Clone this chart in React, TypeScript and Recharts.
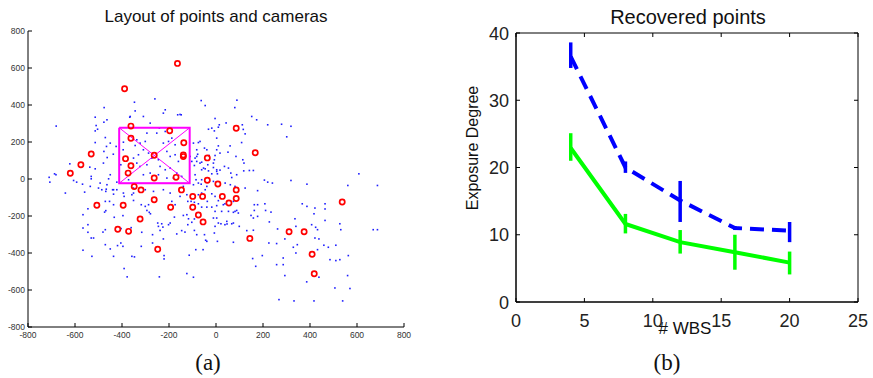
import React from "react";
import {
  ScatterChart,
  Scatter,
  ComposedChart,
  Line,
  ErrorBar,
  XAxis,
  YAxis,
  ReferenceArea,
} from "recharts";

// ---- (a) layout of points and cameras ----
const layoutTicks = [-800, -600, -400, -200, 0, 200, 400, 600, 800];

const scenePoints: [number, number][] = [
  [-347, 415], [-260, 433], [-344, 368], [-476, 386], [-514, 334], [-477, 307], [-680, 286], [-510, 289],
  [-514, 260], [-504, 269], [-471, 224], [-367, 334], [-514, 197], [-466, 176], [-425, 176], [-477, 149],
  [-437, 134], [-463, 116], [-394, 199], [-395, 158], [-405, 77], [-344, 181], [-330, 131], [-622, 82],
  [-687, 28], [-681, 23], [-710, 9], [-707, -17], [-606, -8], [-593, -17], [-568, -28], [-537, 64],
  [-514, 55], [-531, 14], [-531, 1], [-535, -40], [-500, -49], [-493, -22], [-464, -31], [-450, 23],
  [-457, 1], [-467, -55], [-469, -67], [-422, -17], [-440, -58], [-436, -82], [-422, -58], [-391, -94],
  [-351, -76], [-351, -49], [-372, -4], [-641, -76], [-559, -71],
  [-365, 338], [-309, 338], [-280, 302], [-241, 275], [-294, 248], [-252, 248], [-216, 257], [-188, 221],
  [-337, 212], [-323, 194], [-301, 203], [-224, 194], [-202, 203], [-174, 185], [-309, 158], [-287, 140],
  [-273, 113], [-245, 104], [-209, 149], [-195, 122], [-174, 131], [-160, 95], [-351, 113], [-337, 86],
  [-323, 68], [-294, 77], [-238, 68], [-216, 50], [-195, 59], [-167, 32], [-309, 23], [-280, 32],
  [-245, 23], [-209, 5], [-181, 5], [-146, 14], [-96, 194], [-68, 203], [-82, 122], [-68, 86],
  [-53, 59], [-89, 23], [-61, -4], [-96, -31], [-39, -40], [-11, -13], [3, 41], [-11, 86],
  [3, 158], [-464, 320], [-450, 194], [-479, 86], [-486, -58], [-436, -58], [-394, -76], [-358, -85],
  [-301, -58], [-266, -67], [-224, -58], [-195, -76], [-153, -94], [-139, -40], [-124, -85], [-224, 356],
  [-153, 349],
  [-63, 424], [-46, 397], [89, 426], [80, 386], [-4, 327], [43, 303], [14, 293], [10, 280],
  [-18, 275], [-32, 269], [-7, 260], [152, 338], [173, 320], [112, 293], [116, 268], [124, 244],
  [220, 293], [279, 296], [3, 221], [109, 197], [10, 179], [60, 179], [85, 122], [114, 104],
  [119, 86], [51, 145], [17, 140], [-75, 197], [-82, 158], [-49, 167], [-39, 158], [-29, 127],
  [-4, 127], [-7, 104], [-78, 134], [-89, 113], [-82, 95], [-92, 73], [-110, 122], [-103, 95],
  [-61, 91], [-35, 77], [-46, 55], [-61, 50], [-32, 44], [-11, 62], [-18, 28], [3, 50],
  [6, 28], [17, 48], [36, 68], [53, 59], [63, 32], [67, 8], [88, 23], [118, 44],
  [142, 46], [159, 46], [206, -6], [220, -17], [240, -22], [177, -63], [-85, -4], [-75, -22],
  [-63, -28], [-46, -58], [-75, -85], [-61, -76], [-18, -80], [-4, -94], [39, -22], [61, -31],
  [81, -40], [124, -49], [-163, 347], [-148, 347], [-216, 374],
  [319, 285], [301, 228], [319, -8], [387, -28], [608, 28], [561, -35], [687, -35],
  [-545, -161], [-566, -193], [-471, -121], [-453, -121], [-436, -139], [-469, -171], [-474, -179], [-433, -207],
  [-396, -198], [-351, -116], [-318, -139], [-301, -148], [-287, -139], [-284, -180], [-294, -170], [-279, -188],
  [-545, -247], [-566, -265], [-545, -288], [-531, -319], [-521, -319], [-481, -287], [-471, -274], [-404, -268],
  [-361, -263], [-316, -288], [-270, -301], [-248, -238], [-231, -242], [-226, -260], [-245, -256], [-238, -278],
  [-224, -324], [-270, -346], [-471, -355], [-450, -378], [-419, -360], [-405, -346], [-396, -364], [-318, -364],
  [-566, -385], [-528, -418], [-436, -418], [-358, -418], [-347, -421], [-221, -414], [-221, -432], [-391, -484],
  [-378, -529], [-241, -529],
  [-188, -121], [-174, -139], [-120, -121], [-106, -121], [-92, -126], [-75, -134], [-61, -152], [-39, -152],
  [-37, -121], [-18, -152], [3, -144], [10, -117], [31, -139], [38, -134], [74, -121], [81, -175],
  [88, -170], [95, -184], [74, -180], [53, -175], [24, -175], [-4, -175], [163, -139], [177, -139],
  [208, -134], [163, -170], [211, -170], [234, -179], [149, -197], [159, -211], [177, -202], [227, -232],
  [-139, -197], [-124, -193], [-117, -215], [-120, -247], [-103, -234], [-92, -216], [-177, -206], [-202, -247],
  [-195, -238], [-167, -297], [-146, -279], [-132, -287], [-92, -278], [-82, -301], [-49, -301], [-44, -331],
  [-7, -292], [-11, -211], [3, -211], [10, -238], [21, -242], [38, -247], [47, -243], [67, -242],
  [74, -238], [-4, -256], [46, -229], [99, -256], [131, -279], [159, -277], [74, -342], [6, -337],
  [-39, -337], [-86, -382], [-55, -382], [-114, -412], [197, -414], [156, -430], [262, -270], [258, -349],
  [225, -346], [258, -463], [169, -472], [286, -463], [286, -427], [-124, -511], [-96, -531], [268, -652],
  [367, -134], [387, -148], [421, -157], [464, -134], [464, -162], [417, -188], [464, -224], [336, -215],
  [340, -256], [407, -247], [424, -261], [432, -274], [527, -242], [531, -274], [669, -274], [687, -274],
  [293, -324], [346, -355], [329, -369], [340, -400], [421, -319], [438, -324], [459, -358], [478, -369],
  [510, -358], [432, -382], [563, -414], [485, -436], [510, -441], [527, -436], [293, -522], [438, -531],
  [560, -522], [386, -556], [506, -589], [570, -592], [332, -659], [417, -659], [539, -659],
];

const cameraPoints: [number, number][] = [
  [-164, 625], [-389, 488], [-362, 286], [86, 274], [-197, 261], [-362, 220], [-137, 196], [-531, 135],
  [167, 142], [-263, 128], [-139, 130], [-139, 121], [-37, 114], [-385, 110], [-575, 77], [-362, 72],
  [-620, 31], [-374, 32], [-263, 5], [-170, 9], [-37, -7], [8, -27], [-348, -41], [-319, -59],
  [-147, -59], [86, -59], [-99, -94], [-57, -94], [27, -94], [86, -105], [-263, -112], [55, -130],
  [-507, -142], [-395, -142], [-193, -153], [-99, -153], [-75, -195], [-323, -216], [-55, -232], [-418, -272],
  [-372, -283], [144, -321], [311, -285], [375, -285], [537, -124], [-248, -380], [409, -407], [418, -512],
];

// camera frame: corners top-left, top-right, bottom-right, bottom-left
const frameCorners: [number, number][] = [
  [-412, 277], [-112, 277], [-112, -23], [-412, -23],
];

// ---- (b) recovered points ----
const wbs = [4, 8, 12, 16, 20];
const blueMean = [36.5, 20.0, 15.1, 11.0, 10.6];
const blueLow = [34.8, 19.2, 11.9, 10.7, 8.9];
const blueHigh = [38.6, 20.9, 18.0, 11.3, 11.9];
const greenMean = [22.9, 11.6, 8.9, 7.4, 5.85];
const greenLow = [21.0, 10.2, 7.2, 4.8, 4.1];
const greenHigh = [25.1, 13.1, 10.7, 10.0, 7.5];
const wbsTicks = [0, 5, 10, 15, 20, 25];
const degreeTicks = [0, 10, 20, 30, 40];

const toXY = (pts: [number, number][]) => pts.map(([x, y]) => ({ x, y }));
const sceneData = toXY(scenePoints);
const cameraData = toXY(cameraPoints);
const c = frameCorners;
const frameOutline = toXY([c[0], c[1], c[2], c[3], c[0]]);
const frameDiagonals = toXY([c[0], c[2], c[3], c[1]]);

const recovered = wbs.map((w, i) => ({
  wbs: w,
  blue: blueMean[i],
  blueErr: [blueMean[i] - blueLow[i], blueHigh[i] - blueMean[i]],
  green: greenMean[i],
  greenErr: [greenMean[i] - greenLow[i], greenHigh[i] - greenMean[i]],
}));

const SANS = "'Liberation Sans', Arial, Helvetica, sans-serif";
const SERIF = "'Liberation Serif', 'DejaVu Serif', serif";

const B_PLOT_W = 342;
const B_PLOT_H = 269;

const TickBottomA = (p: any) => (
  <g>
    <line x1={p.x} y1={p.y} x2={p.x} y2={p.y - 4} stroke="#000" />
    <text x={p.x} y={p.y + 11} textAnchor="middle" fontSize={8.5} fill="#333" fontFamily={SANS}>
      {p.payload.value}
    </text>
  </g>
);

const TickLeftA = (p: any) => (
  <g>
    <line x1={p.x} y1={p.y} x2={p.x + 4} y2={p.y} stroke="#000" />
    <text x={p.x - 3} y={p.y + 3} textAnchor="end" fontSize={8.5} fill="#333" fontFamily={SANS}>
      {p.payload.value}
    </text>
  </g>
);

const TickBottomB = (p: any) => (
  <g>
    <line x1={p.x} y1={p.y} x2={p.x} y2={p.y - 4} stroke="#000" />
    <line x1={p.x} y1={p.y - B_PLOT_H} x2={p.x} y2={p.y - B_PLOT_H + 4} stroke="#000" />
    <text x={p.x} y={p.y + 25} textAnchor="middle" fontSize={18} fill="#222" fontFamily={SANS}>
      {p.payload.value}
    </text>
  </g>
);

const TickLeftB = (p: any) => (
  <g>
    <line x1={p.x} y1={p.y} x2={p.x + 4} y2={p.y} stroke="#000" />
    <line x1={p.x + B_PLOT_W - 4} y1={p.y} x2={p.x + B_PLOT_W} y2={p.y} stroke="#000" />
    <text x={p.x - 7} y={p.y + 6.5} textAnchor="end" fontSize={18} fill="#222" fontFamily={SANS}>
      {p.payload.value}
    </text>
  </g>
);

const sceneDot = (p: any) => (
  <rect x={p.cx - 0.8} y={p.cy - 0.8} width={1.6} height={1.6} fill="#1f1fff" />
);
const cameraRing = (p: any) => (
  <circle cx={p.cx} cy={p.cy} r={2.6} fill="none" stroke="#ff0000" strokeWidth={1.7} />
);
const noShape = () => <g />;

const Caption = ({ x, y, size, font, rotate, children }: any) => (
  <div
    style={{
      position: "absolute",
      left: x,
      top: y,
      transform: `translate(-50%, -50%)${rotate ? ` rotate(${rotate}deg)` : ""}`,
      whiteSpace: "nowrap",
      fontFamily: font,
      fontSize: size,
      lineHeight: 1,
      color: "#111",
    }}
  >
    {children}
  </div>
);

export default function App() {
  return (
    <div style={{ position: "absolute", left: 0, top: 0, width: 873, height: 378, background: "#fff", overflow: "hidden" }}>
      <div style={{ position: "absolute", left: 0, top: 0 }}>
        <ScatterChart width={420} height={347} margin={{ top: 31, right: 16, bottom: 0, left: 0 }}>
          <XAxis
            type="number"
            dataKey="x"
            domain={[-800, 800]}
            ticks={layoutTicks}
            interval={0}
            height={20}
            tickSize={0}
            tickMargin={0}
            tickLine={false}
            axisLine={{ stroke: "#000" }}
            tick={<TickBottomA />}
          />
          <YAxis
            type="number"
            dataKey="y"
            domain={[-800, 800]}
            ticks={layoutTicks}
            interval={0}
            width={28}
            tickSize={0}
            tickMargin={0}
            tickLine={false}
            axisLine={{ stroke: "#000" }}
            tick={<TickLeftA />}
          />
          <Scatter data={sceneData} shape={sceneDot} isAnimationActive={false} />
          <Scatter
            data={frameOutline}
            line={{ stroke: "#ff00ff", strokeWidth: 2 }}
            lineType="joint"
            shape={noShape}
            isAnimationActive={false}
          />
          <Scatter
            data={frameDiagonals}
            line={{ stroke: "#ff00ff", strokeWidth: 1 }}
            lineType="joint"
            shape={noShape}
            isAnimationActive={false}
          />
          <Scatter data={cameraData} shape={cameraRing} isAnimationActive={false} />
        </ScatterChart>
      </div>

      <div style={{ position: "absolute", left: 450, top: 0 }}>
        <ComposedChart width={423} height={342} data={recovered} margin={{ top: 33, right: 15, bottom: 0, left: 0 }}>
          <XAxis
            type="number"
            dataKey="wbs"
            domain={[0, 25]}
            ticks={wbsTicks}
            interval={0}
            height={40}
            tickSize={0}
            tickMargin={0}
            tickLine={false}
            axisLine={{ stroke: "#000" }}
            tick={<TickBottomB />}
          />
          <YAxis
            type="number"
            domain={[0, 40]}
            ticks={degreeTicks}
            interval={0}
            width={66}
            tickSize={0}
            tickMargin={0}
            tickLine={false}
            axisLine={{ stroke: "#000" }}
            tick={<TickLeftB />}
          />
          <ReferenceArea x1={0} x2={25} y1={0} y2={40} fill="none" fillOpacity={0} stroke="#000" strokeWidth={1} />
          <Line
            dataKey="blue"
            stroke="#0000ff"
            strokeWidth={4}
            strokeDasharray="14 8"
            dot={false}
            activeDot={false}
            isAnimationActive={false}
          >
            <ErrorBar dataKey="blueErr" width={0} stroke="#0000ff" strokeWidth={3.5} direction="y" />
          </Line>
          <Line
            dataKey="green"
            stroke="#00ff00"
            strokeWidth={4}
            dot={false}
            activeDot={false}
            isAnimationActive={false}
          >
            <ErrorBar dataKey="greenErr" width={0} stroke="#00ff00" strokeWidth={3.5} direction="y" />
          </Line>
        </ComposedChart>
      </div>

      <Caption x={216} y={16} size={17} font={SANS}>Layout of points and cameras</Caption>
      <Caption x={688} y={17} size={20} font={SANS}>Recovered points</Caption>
      <Caption x={473} y={148} size={16} font={SANS} rotate={-90}>Exposure Degree</Caption>
      <Caption x={685} y={328} size={17} font={SANS}># WBS</Caption>
      <Caption x={208} y={362} size={23} font={SERIF}>(a)</Caption>
      <Caption x={667} y={362} size={23} font={SERIF}>(b)</Caption>
    </div>
  );
}
